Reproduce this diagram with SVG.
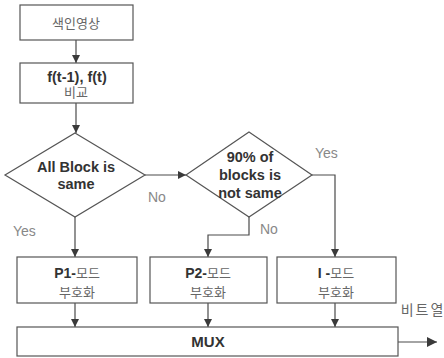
<svg xmlns="http://www.w3.org/2000/svg" width="444" height="358" viewBox="0 0 444 358">
  <style>
    .box { fill: #ffffff; stroke: #555555; stroke-width: 1.2; }
    .line { fill: none; stroke: #4a4a4a; stroke-width: 1.2; }
    .en { font-family: "Liberation Sans", Arial, sans-serif; font-weight: bold; font-size: 13px; fill: #333333; text-anchor: middle; }
    .dec { font-size: 14.5px; }
    .ko { font-family: "Liberation Sans", "Noto Sans CJK KR", sans-serif; font-size: 13px; fill: #666666; text-anchor: middle; }
    .lbl { font-family: "Liberation Sans", Arial, sans-serif; font-size: 14px; fill: #888888; }
  </style>
  <defs>
    <marker id="arrow" viewBox="0 0 10 10" refX="10" refY="5" markerWidth="8" markerHeight="8" markerUnits="userSpaceOnUse" orient="auto">
      <path d="M0,0 L10,5 L0,10 z" fill="#3a3a3a"/>
    </marker>
    <marker id="arrowBig" viewBox="0 0 10 10" refX="10" refY="5" markerWidth="11" markerHeight="10" markerUnits="userSpaceOnUse" orient="auto">
      <path d="M0,0 L10,5 L0,10 z" fill="#3a3a3a"/>
    </marker>
  </defs>

  <rect width="444" height="358" fill="#ffffff"/>

  <!-- connectors -->
  <g id="connectors">
    <line class="line" x1="76" y1="40" x2="76" y2="63" marker-end="url(#arrow)"/>
    <line class="line" x1="76" y1="103" x2="76" y2="133" marker-end="url(#arrow)"/>
    <line class="line" x1="145" y1="175" x2="186" y2="175" marker-end="url(#arrow)"/>
    <line class="line" x1="75" y1="217" x2="75" y2="257" marker-end="url(#arrow)"/>
    <polyline class="line" points="249,217 249,235 208,235 208,257" marker-end="url(#arrow)"/>
    <polyline class="line" points="312,175 335,175 335,257" marker-end="url(#arrow)"/>
    <line class="line" x1="75" y1="303" x2="75" y2="327" marker-end="url(#arrow)"/>
    <line class="line" x1="208" y1="303" x2="208" y2="327" marker-end="url(#arrow)"/>
    <line class="line" x1="335" y1="303" x2="335" y2="327" marker-end="url(#arrow)"/>
    <line class="line" x1="398" y1="342" x2="437" y2="342" marker-end="url(#arrowBig)"/>
    <text class="lbl" x="148" y="202">No</text>
    <text class="lbl" x="13" y="236">Yes</text>
    <text class="lbl" x="315" y="158">Yes</text>
    <text class="lbl" x="260" y="234">No</text>
    <text class="ko" x="423" y="315" style="font-size:14px; letter-spacing:2px">비트열</text>
  </g>

  <g id="input">
    <rect class="box" x="20" y="5" width="113" height="35"/>
    <text class="ko" x="76" y="28">색인영상</text>
  </g>

  <g id="compare">
    <rect class="box" x="20" y="63" width="113" height="40"/>
    <text class="en" x="77" y="82" style="font-size:14.5px">f(t-1), f(t)</text>
    <text class="ko" x="76" y="97">비교</text>
  </g>

  <g id="decision-all">
    <polygon class="box" points="75,133 145,175 75,217 5,175"/>
    <text class="en dec" x="76" y="172">All Block is</text>
    <text class="en dec" x="76" y="189">same</text>
  </g>

  <g id="decision-90">
    <polygon class="box" points="249,132 312,175 249,217 186,175"/>
    <text class="en dec" x="250" y="162">90% of</text>
    <text class="en dec" x="250" y="180">blocks is</text>
    <text class="en dec" x="250" y="198">not same</text>
  </g>

  <g id="p1-mode">
    <rect class="box" x="17" y="257" width="120" height="46"/>
    <text class="en" x="77" y="278" style="font-size:14px">P1-<tspan class="ko" style="font-weight:normal">모드</tspan></text>
    <text class="ko" x="77" y="297">부호화</text>
  </g>

  <g id="p2-mode">
    <rect class="box" x="150" y="257" width="117" height="46"/>
    <text class="en" x="208" y="278" style="font-size:14px">P2-<tspan class="ko" style="font-weight:normal">모드</tspan></text>
    <text class="ko" x="208" y="297">부호화</text>
  </g>

  <g id="i-mode">
    <rect class="box" x="277" y="257" width="119" height="46"/>
    <text class="en" x="336" y="278" style="font-size:14px">I -<tspan class="ko" style="font-weight:normal">모드</tspan></text>
    <text class="ko" x="336" y="297">부호화</text>
  </g>

  <g id="mux">
    <rect class="box" x="17" y="327" width="381" height="29"/>
    <text class="en" x="208" y="347" style="font-size:15px">MUX</text>
  </g>
</svg>
